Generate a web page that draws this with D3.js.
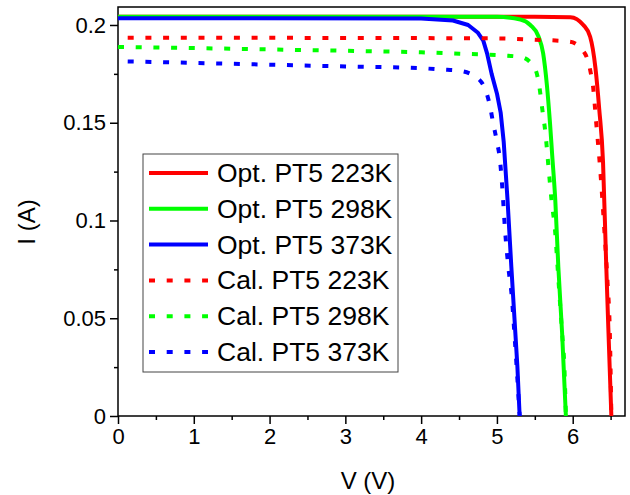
<!DOCTYPE html>
<html>
<head>
<meta charset="utf-8">
<script src="https://cdn.jsdelivr.net/npm/d3@7"></script>
<style>
  body { margin: 0; background: #fff; }
  svg { font-family: Arial, "Liberation Sans", sans-serif; }
</style>
</head>
<body>
<div class="chart"></div>
<script>
"use strict";

//series values, [V, I]
var opt223 = [[0,0.2042],[5.5,0.2042],[5.97,0.2040],[6.14,0.2000],[6.23,0.1940],[6.30,0.1780],[6.35,0.1570],[6.40,0.1300],[6.44,0.0800],[6.47,0.0450],[6.51,0]];
var opt298 = [[0,0.2042],[5.0,0.2042],[5.31,0.2028],[5.44,0.2000],[5.55,0.1940],[5.61,0.1855],[5.66,0.1690],[5.70,0.1500],[5.73,0.1330],[5.77,0.1105],[5.81,0.0764],[5.86,0.0425],[5.91,0]];
var opt373 = [[0,0.2035],[4.0,0.2033],[4.42,0.2023],[4.62,0.2000],[4.75,0.1960],[4.82,0.1920],[4.87,0.1855],[4.93,0.1750],[5.00,0.1650],[5.05,0.1550],[5.09,0.1400],[5.14,0.1105],[5.19,0.0764],[5.23,0.0508],[5.27,0.0252],[5.30,0]];
var cal223 = [[0,0.1935],[4.9,0.1932],[5.5,0.1925],[5.96,0.1915],[6.16,0.1855],[6.23,0.1770],[6.27,0.1680],[6.31,0.1500],[6.36,0.1275],[6.42,0.0936],[6.46,0.0680],[6.49,0.0425],[6.51,0]];
var cal298 = [[0,0.1888],[1,0.1882],[2,0.1875],[3,0.1868],[4,0.1860],[4.6,0.1852],[5.05,0.1845],[5.33,0.1835],[5.51,0.1770],[5.56,0.1684],[5.60,0.1565],[5.64,0.1448],[5.68,0.1275],[5.72,0.1105],[5.77,0.0936],[5.80,0.0764],[5.83,0.0593],[5.86,0.0425],[5.89,0.0252],[5.91,0]];
var cal373 = [[0,0.1815],[1,0.1806],[2,0.1797],[3,0.1788],[4,0.1779],[4.27,0.1772],[4.5,0.1766],[4.71,0.1737],[4.84,0.1676],[4.91,0.1582],[4.95,0.1499],[5.00,0.1403],[5.04,0.1310],[5.07,0.1173],[5.11,0.0936],[5.15,0.0764],[5.20,0.0593],[5.23,0.0425],[5.26,0.0252],[5.30,0]];

var seriesNames = ['Opt. PT5 223K','Opt. PT5 298K','Opt. PT5 373K','Cal. PT5 223K','Cal. PT5 298K','Cal. PT5 373K'];

//tick labels
var xTicks = [0,1,2,3,4,5,6];
var xMinor = [0.5,1.5,2.5,3.5,4.5,5.5,6.5];
var yTicks = [0,0.05,0.1,0.15,0.2];
var yMinor = [0.025,0.075,0.125,0.175];

var width = 630;
var height = 495;
var margin = {left: 118, right: 5, top: 7, bottom: 79};

var x = d3.scaleLinear().domain([0, 6.69]).range([margin.left, width - margin.right]);
var y = d3.scaleLinear().domain([0, 0.2092]).range([height - margin.bottom, margin.top]);

var series = [
  {name: seriesNames[0], data: opt223, color: '#ff0000', dashed: false},
  {name: seriesNames[1], data: opt298, color: '#00ff00', dashed: false},
  {name: seriesNames[2], data: opt373, color: '#0000ff', dashed: false, linear: true},
  {name: seriesNames[3], data: cal223, color: '#ff0000', dashed: true, offset: 8},
  {name: seriesNames[4], data: cal298, color: '#00ff00', dashed: true, offset: 0},
  {name: seriesNames[5], data: cal373, color: '#0000ff', dashed: true, offset: 8}
];

var svg = d3.select('.chart')
            .append('svg')
            .attr('width', width)
            .attr('height', height);

//axes, ticks point outwards
var xAxis = svg.append('g')
  .attr('transform', 'translate(0,' + y(0) + ')')
  .call(d3.axisBottom(x).tickValues(xTicks).tickSize(8).tickPadding(4).tickFormat(function(d){ return String(d) }));
svg.append('g')
  .attr('transform', 'translate(0,' + y(0) + ')')
  .call(d3.axisBottom(x).tickValues(xMinor).tickSize(4).tickFormat(''));

var yAxis = svg.append('g')
  .attr('transform', 'translate(' + x(0) + ',0)')
  .call(d3.axisLeft(y).tickValues(yTicks).tickSize(8).tickPadding(4).tickFormat(function(d){ return String(d) }));
svg.append('g')
  .attr('transform', 'translate(' + x(0) + ',0)')
  .call(d3.axisLeft(y).tickValues(yMinor).tickSize(4).tickFormat(''));

svg.selectAll('.domain').remove();
svg.selectAll('.tick line').attr('stroke', '#000').attr('stroke-width', 1.5);
svg.selectAll('.tick text').attr('fill', '#000').style('font-size', '22px');

//frame round the plot
svg.append('rect')
  .attr('x', x(0))
  .attr('y', y.range()[1])
  .attr('width', x.range()[1] - x(0))
  .attr('height', y(0) - y.range()[1])
  .attr('fill', 'none')
  .attr('stroke', '#000')
  .attr('stroke-width', 1.5);

//curves
series.forEach(function(s){
  var line = d3.line()
    .x(function(d){ return x(d[0]) })
    .y(function(d){ return y(d[1]) })
    .curve(s.linear ? d3.curveLinear : d3.curveMonotoneX);
  var path = svg.append('path')
    .datum(s.data)
    .attr('d', line)
    .attr('fill', 'none')
    .attr('stroke', s.color)
    .attr('stroke-width', 4)
    .attr('stroke-linejoin', 'round');
  if (s.dashed) {
    path.attr('stroke-dasharray', '6 11.7').attr('stroke-dashoffset', s.offset);
  }
});

//axis titles
svg.append('text')
  .attr('x', 368)
  .attr('y', 489)
  .attr('text-anchor', 'middle')
  .style('font-size', '24px')
  .text('V (V)');

svg.append('text')
  .attr('transform', 'translate(40,222) rotate(-90)')
  .attr('text-anchor', 'middle')
  .attr('dy', '-0.2em')
  .style('font-size', '24px')
  .text('I (A)');

//legend
var legend = svg.append('g');
legend.append('rect')
  .attr('x', 143)
  .attr('y', 154)
  .attr('width', 255)
  .attr('height', 218)
  .attr('fill', '#fff')
  .attr('stroke', '#444')
  .attr('stroke-width', 1);

var rows = legend.selectAll('.row')
  .data(series)
  .enter().append('g')
  .attr('class', 'row')
  .attr('transform', function(d, i){ return 'translate(0,' + (173 + i * 35.8) + ')' });

rows.append('line')
  .attr('x1', 149)
  .attr('x2', 208)
  .attr('stroke', function(d){ return d.color })
  .attr('stroke-width', 4)
  .attr('stroke-dasharray', function(d){ return d.dashed ? '6 11.7' : null });

rows.append('text')
  .attr('x', 217)
  .attr('y', 9)
  .style('font-size', '26.5px')
  .text(function(d){ return d.name });
</script>
</body>
</html>
